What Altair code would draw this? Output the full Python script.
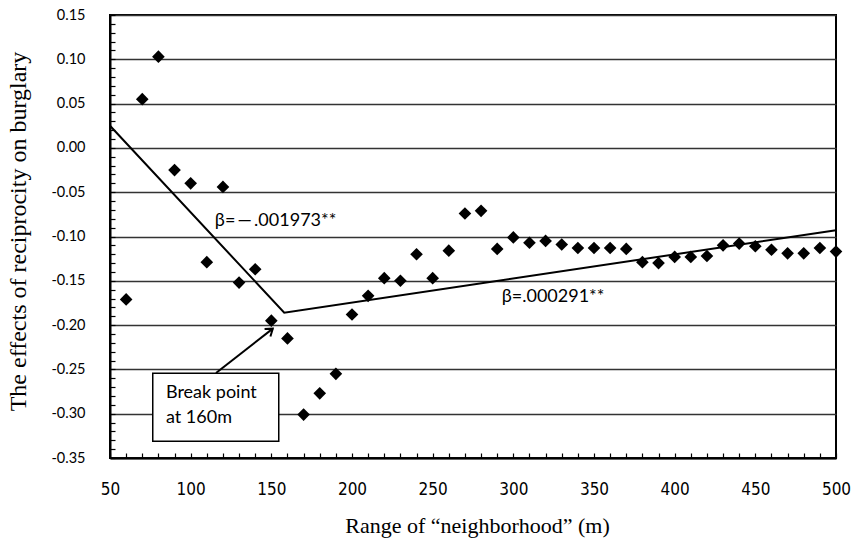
import altair as alt
import pandas as pd

# ---- data ----
ranges = [60, 70, 80, 90, 100, 110, 120, 130, 140, 150,
          160, 170, 180, 190, 200, 210, 220, 230, 240, 250,
          260, 270, 280, 290, 300, 310, 320, 330, 340, 350,
          360, 370, 380, 390, 400, 410, 420, 430, 440, 450,
          460, 470, 480, 490, 500]
effects = [-0.171, 0.055, 0.103, -0.025, -0.040, -0.129, -0.044, -0.152, -0.137, -0.195,
           -0.215, -0.301, -0.277, -0.255, -0.188, -0.167, -0.147, -0.150, -0.120, -0.147,
           -0.116, -0.074, -0.071, -0.114, -0.101, -0.107, -0.105, -0.109, -0.113, -0.113,
           -0.113, -0.114, -0.129, -0.130, -0.123, -0.123, -0.122, -0.110, -0.108, -0.111,
           -0.115, -0.119, -0.119, -0.113, -0.117]

fit_x = [50, 158, 500]
fit_y = [0.025, -0.186, -0.093]

x_ticks = [50, 100, 150, 200, 250, 300, 350, 400, 450, 500]
y_ticks = [-0.35, -0.30, -0.25, -0.20, -0.15, -0.10, -0.05, 0.00, 0.05, 0.10, 0.15]
x_minor = [50 + 10 * i for i in range(46)]
y_minor = [round(-0.35 + 0.01 * i, 2) for i in range(51)]

label_text = ["β=\u2009—\u2009.001973**", "β=.000291**"]
label_x = [115.0, 292.8]
label_y = [-0.083, -0.168]

box_x, box_x2 = [76.5], [154.6]
box_y, box_y2 = [-0.2544], [-0.331]
box_lines = ["Break point", "at 160m"]
box_lines_x = [84.7, 84.7]
box_lines_y = [-0.2766, -0.3047]

arrow_x, arrow_x2 = [115.7], [150.9]
arrow_y, arrow_y2 = [-0.254], [-0.204]

pts = pd.DataFrame({"x": ranges, "y": effects})
fit = pd.DataFrame({"x": fit_x, "y": fit_y})
labels = pd.DataFrame({"x": label_x, "y": label_y, "t": label_text})
box = pd.DataFrame({"x": box_x, "x2": box_x2, "y": box_y, "y2": box_y2})
boxtxt = pd.DataFrame({"x": box_lines_x, "y": box_lines_y, "t": box_lines})
arrow = pd.DataFrame({"x": arrow_x, "x2": arrow_x2, "y": arrow_y, "y2": arrow_y2})
tip = pd.DataFrame({"x": arrow_x2, "y": arrow_y2})

xscale = alt.Scale(domain=[50, 500], nice=False, zero=False)
yscale = alt.Scale(domain=[-0.35, 0.15], nice=False, zero=False)

SERIF = "Liberation Serif, Times New Roman, serif"
SANS = "Lato, Open Sans, sans-serif"
NARROW = "Liberation Sans Narrow, DejaVu Sans Condensed, Arial Narrow, sans-serif"

x_main = alt.Axis(orient="bottom", values=x_ticks, format="d", labelFont=NARROW,
                  labelFontSize=17, labelColor="black", ticks=False, labelPadding=23,
                  grid=False, domain=True, domainColor="black", domainWidth=2,
                  title="Range of “neighborhood” (m)", titleFont=SERIF, titleFontSize=22,
                  titleFontWeight="normal", titleColor="black",
                  titleX=367, titleY=67, titleBaseline="middle", titleAlign="center",
                  labelFlush=False)
y_main = alt.Axis(orient="left", values=y_ticks,
                  labelExpr="replace(format(datum.value, '.2f'), '−', '-')",
                  labelFont=SANS, labelFontSize=14.5, labelColor="black", ticks=False,
                  labelPadding=25, grid=True, gridColor="#333333", gridWidth=1.3,
                  domain=True, domainColor="black", domainWidth=2,
                  title="The effects of reciprocity on burglary", titleFont=SERIF,
                  titleFontSize=24, titleFontWeight="normal", titleColor="black",
                  titleX=-92, titleY=216, titleAngle=270, titleBaseline="middle",
                  titleAlign="center", labelFlush=False)
x_minor_ax = alt.Axis(orient="bottom", offset=-5, values=x_minor, tickSize=5,
                      tickColor="black", tickWidth=1.2, labels=False, domain=False,
                      grid=False, title=None)
y_minor_ax = alt.Axis(orient="left", offset=-5, values=y_minor, tickSize=5,
                      tickColor="black", tickWidth=1.2, labels=False, domain=False,
                      grid=False, title=None)

points = alt.Chart(pts).mark_point(shape="diamond", filled=True, color="black",
                                   size=160, opacity=1).encode(
    x=alt.X("x:Q", scale=xscale, axis=x_main),
    y=alt.Y("y:Q", scale=yscale, axis=y_main),
)

lines = alt.Chart(fit).mark_line(color="black", strokeWidth=2).encode(
    x=alt.X("x:Q", scale=xscale, axis=x_minor_ax),
    y=alt.Y("y:Q", scale=yscale, axis=y_minor_ax),
)

texts = alt.Chart(labels).mark_text(align="left", baseline="middle", font=SANS,
                                    fontSize=18, color="black").encode(
    x=alt.X("x:Q", scale=xscale, axis=None),
    y=alt.Y("y:Q", scale=yscale, axis=None),
    text="t:N",
)

rect = alt.Chart(box).mark_rect(fill="white", stroke="black", strokeWidth=1.5).encode(
    x=alt.X("x:Q", scale=xscale, axis=None), x2="x2:Q",
    y=alt.Y("y:Q", scale=yscale, axis=None), y2="y2:Q",
)

rect_text = alt.Chart(boxtxt).mark_text(align="left", baseline="middle", font=SANS,
                                        fontSize=18, color="black").encode(
    x=alt.X("x:Q", scale=xscale, axis=None),
    y=alt.Y("y:Q", scale=yscale, axis=None),
    text="t:N",
)

arrow_line = alt.Chart(arrow).mark_rule(color="black", strokeWidth=2).encode(
    x=alt.X("x:Q", scale=xscale, axis=None), x2="x2:Q",
    y=alt.Y("y:Q", scale=yscale, axis=None), y2="y2:Q",
)

arrow_head = alt.Chart(tip).mark_point(shape="M -0.6 0.85 L 0 0 L 0.6 0.85",
                                       filled=False, color="black", strokeWidth=2,
                                       size=250, angle=52, opacity=1).encode(
    x=alt.X("x:Q", scale=xscale, axis=None),
    y=alt.Y("y:Q", scale=yscale, axis=None),
)

chart = alt.layer(
    lines, rect, rect_text, arrow_line, arrow_head, texts, points
).resolve_axis(x="independent", y="independent").properties(
    width=726, height=443,
    autosize=alt.AutoSizeParams(type="none"),
    padding={"left": 110, "top": 15, "right": 16, "bottom": 93},
    background="white",
).configure_view(stroke="black", strokeWidth=2)

chart.save("out.html", embed_options={"renderer": "svg", "actions": False})
